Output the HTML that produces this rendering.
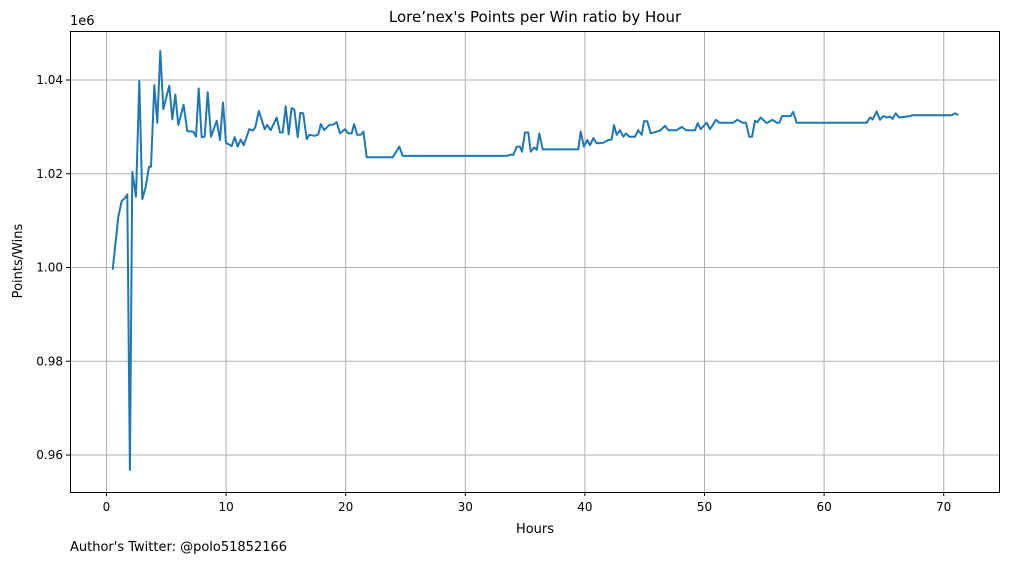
<!DOCTYPE html>
<html><head><meta charset="utf-8"><style>
html,body{margin:0;padding:0;background:#fff}
svg{display:block;font-family:"DejaVu Sans","Liberation Sans",sans-serif}
</style></head><body>
<svg id="chart" width="1010" height="562" viewBox="0 0 1010 562" xmlns="http://www.w3.org/2000/svg">
<rect width="1010" height="562" fill="#fff"/>
<g id="grid"></g>
<g id="ticks"></g>
<path id="line" fill="none" stroke="#1f77b4" stroke-width="2" stroke-linejoin="round"/>
<rect x="70.5" y="31.5" width="929" height="461" fill="none" stroke="#000" stroke-width="1"/>
<text x="535" y="22" font-size="15" text-anchor="middle">Lore’nex's Points per Win ratio by Hour</text>
<text x="535" y="533" font-size="13" text-anchor="middle">Hours</text>
<text transform="translate(22,261) rotate(-90)" font-size="13" text-anchor="middle">Points/Wins</text>
<text x="70" y="25" font-size="13">1e6</text>
<text x="70" y="551" font-size="13">Author's Twitter: @polo51852166</text>
</svg>
<script>
const hours=[0.52,0.99,1.27,1.55,1.74,1.96,2.16,2.47,2.74,2.99,3.28,3.55,3.72,4.00,4.25,4.50,4.75,5.25,5.50,5.75,6.00,6.45,6.76,7.26,7.48,7.71,7.96,8.21,8.46,8.74,9.21,9.49,9.74,9.99,10.47,10.72,10.97,11.22,11.47,11.94,12.22,12.44,12.73,13.23,13.44,13.73,14.23,14.51,14.73,14.98,15.23,15.48,15.70,15.99,16.20,16.45,16.74,16.96,17.43,17.71,17.93,18.19,18.63,18.96,19.25,19.52,19.94,20.22,20.50,20.70,20.97,21.26,21.48,21.76,23.93,24.48,24.77,33.46,33.88,34.01,34.30,34.57,34.74,34.99,35.27,35.47,35.75,35.98,36.19,36.47,39.45,39.65,39.92,40.20,40.43,40.70,40.99,41.54,41.96,42.24,42.43,42.66,42.93,43.21,43.44,43.71,44.19,44.46,44.75,44.94,45.22,45.50,46.28,46.70,46.97,47.67,48.09,48.45,49.21,49.43,49.68,50.18,50.46,50.96,51.24,52.41,52.74,53.19,53.47,53.74,53.97,54.22,54.41,54.70,55.20,55.70,56.03,56.25,56.48,57.20,57.42,57.71,63.56,63.84,64.06,64.40,64.67,64.95,65.23,65.51,65.73,65.99,66.26,67.18,67.41,70.67,70.95,71.22];
const values=[0.9995,1.0108,1.0142,1.0148,1.0156,0.9568,1.0204,1.0151,1.0398,1.0146,1.0172,1.0215,1.0215,1.0389,1.0309,1.0462,1.0338,1.0388,1.0316,1.0369,1.0304,1.0347,1.0291,1.0290,1.0279,1.0382,1.0278,1.0279,1.0374,1.0279,1.0313,1.0272,1.0352,1.0266,1.0259,1.0278,1.0258,1.0273,1.0261,1.0295,1.0292,1.0299,1.0334,1.0295,1.0304,1.0293,1.0320,1.0288,1.0288,1.0344,1.0284,1.0340,1.0337,1.0278,1.0330,1.0329,1.0274,1.0283,1.0281,1.0284,1.0306,1.0293,1.0304,1.0305,1.0310,1.0286,1.0295,1.0286,1.0286,1.0306,1.0283,1.0283,1.0290,1.0235,1.0235,1.0258,1.0238,1.0238,1.0241,1.0240,1.0258,1.0258,1.0247,1.0288,1.0288,1.0247,1.0256,1.0251,1.0286,1.0252,1.0252,1.0290,1.0258,1.0272,1.0261,1.0276,1.0265,1.0266,1.0272,1.0273,1.0304,1.0283,1.0293,1.0279,1.0286,1.0279,1.0279,1.0293,1.0283,1.0312,1.0312,1.0286,1.0292,1.0302,1.0293,1.0293,1.0300,1.0293,1.0293,1.0308,1.0295,1.0309,1.0295,1.0315,1.0309,1.0309,1.0315,1.0309,1.0309,1.0279,1.0279,1.0313,1.0310,1.0320,1.0308,1.0315,1.0309,1.0309,1.0323,1.0323,1.0332,1.0309,1.0309,1.0320,1.0316,1.0333,1.0315,1.0323,1.0320,1.0322,1.0317,1.0329,1.0320,1.0323,1.0325,1.0325,1.0329,1.0325];
const xTicks=[0,10,20,30,40,50,60,70];
const yTicks=[0.96,0.98,1.00,1.02,1.04];
const yTickLabels=["0.96","0.98","1.00","1.02","1.04"];

const X=h=>106.5+h*11.96;
const Y=v=>267.5-(v-1.0)*4687.5;
const NS="http://www.w3.org/2000/svg";
const grid=document.getElementById('grid'), ticks=document.getElementById('ticks');
function mk(tag,attrs,parent){const e=document.createElementNS(NS,tag);for(const k in attrs)e.setAttribute(k,attrs[k]);parent.appendChild(e);return e;}
xTicks.forEach(t=>{
  const x=X(t);
  const g=mk('line',{x1:x,x2:x,y1:31,y2:492,stroke:'#b0b0b0','stroke-width':1},grid);
  
  
  const tk=mk('line',{x1:x,x2:x,y1:492,y2:496,stroke:'#000','stroke-width':1},ticks);
  
  
  const l=mk('text',{x:x,y:511,'font-size':12,'text-anchor':'middle'},ticks);
  l.textContent=String(t);
  
  
});
yTicks.forEach((t,i)=>{
  const y=Y(t);
  const g=mk('line',{x1:70,x2:1000,y1:y,y2:y,stroke:'#b0b0b0','stroke-width':1},grid);
  
  
  const tk=mk('line',{x1:66,x2:70,y1:y,y2:y,stroke:'#000','stroke-width':1},ticks);
  
  
  const l=mk('text',{x:63,y:y+4,'font-size':12,'text-anchor':'end'},ticks);
  l.textContent=yTickLabels[i];
  
  
});
document.getElementById('line').setAttribute('d',hours.map((h,i)=>(i?'L':'M')+X(h).toFixed(1)+' '+Y(values[i]).toFixed(1)).join(' '));
</script>
</body></html>
